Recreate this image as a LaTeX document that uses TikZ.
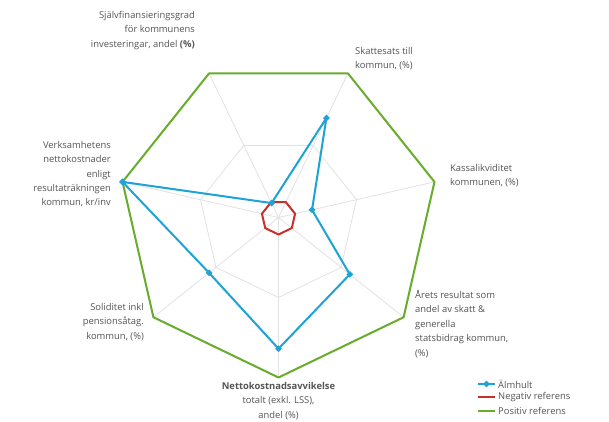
\documentclass[tikz,border=0pt]{standalone}
\usepackage{fontspec}
\setmainfont{Open Sans}
\usetikzlibrary{shapes.geometric}
\definecolor{posc}{HTML}{68AC2C}
\definecolor{negc}{HTML}{C9302C}
\definecolor{almc}{HTML}{1DA3D6}
\definecolor{txtc}{HTML}{555555}
\definecolor{gridc}{HTML}{E2E2E2}
\tikzset{
  lbl/.style={text=txtc, inner sep=0pt, font=\fontsize{9.4}{14.4}\selectfont},
  gridline/.style={draw=gridc, line width=0.8pt},
  posline/.style={draw=posc, line width=2pt, line join=round},
  negline/.style={draw=negc, line width=2pt, line join=round},
  almline/.style={draw=almc, line width=2pt, line join=round},
  almmark/.style={diamond, fill=almc, inner sep=0pt, minimum width=7pt, minimum height=7pt},
}
\begin{document}
\begin{tikzpicture}[x=1pt,y=1pt]
\useasboundingbox (0,0) rectangle (609,421);
\fill[white] (0,0) rectangle (609,421);
\coordinate (O) at (278.5,203.5);
% axes
\foreach \i/\a in {1/270,2/321.43,3/12.86,4/64.29,5/115.71,6/167.14,7/218.57}{
  \coordinate (v\i) at ([shift={(\a:160)}]O);
  \coordinate (h\i) at ([shift={(\a:80)}]O);
  \coordinate (n\i) at ([shift={(\a:17)}]O);
}
\foreach \i in {1,...,7}{ \draw[gridline] (O) -- (v\i); }
\draw[gridline] (h1)--(h2)--(h3)--(h4)--(h5)--(h6)--(h7)--cycle;
% positive reference
\draw[posline] (v1)--(v2)--(v3)--(v4)--(v5)--(v6)--(v7)--cycle;
% negative reference
\draw[negline] (n1)--(n2)--(n3)--(n4)--(n5)--(n6)--(n7)--cycle;
% Almhult
\foreach \i/\a/\r in {1/270/0.82,2/321.43/0.57,3/12.86/0.215,4/64.29/0.69,5/115.71/0.1,6/167.14/1.0,7/218.57/0.555}{
  \coordinate (p\i) at ([shift={(\a:160*\r)}]O);
}
\draw[almline] (p1)--(p2)--(p3)--(p4)--(p5)--(p6)--(p7)--cycle;
\foreach \i in {1,...,7}{ \node[almmark] (m\i) at (p\i) {}; }
% labels
\node[lbl, align=right, anchor=north east] (l5) at (195,421-11) {Självfinansieringsgrad\\för kommunens\\investeringar, andel \textbf{(\%)}};
\node[lbl, align=left, anchor=north west] (l4) at (355,421-47) {Skattesats till\\kommun, (\%)};
\node[lbl, align=left, anchor=north west] (l3) at (450,421-164) {Kassalikviditet\\kommunen, (\%)};
\node[lbl, align=right, anchor=north east] (l6) at (111,421-141) {Verksamhetens\\nettokostnader\\enligt\\resultaträkningen\\kommun, kr/inv};
\node[lbl, align=right, anchor=north east] (l7) at (144,421-303) {Soliditet inkl\\pensionsåtag.\\kommun, (\%)};
\node[lbl, align=center, anchor=north] (l1) at (278.5,421-382) {\textbf{Nettokostnadsavvikelse}\\totalt (exkl. LSS),\\andel (\%)};
\node[lbl, align=left, anchor=north west] (l2) at (415,421-290) {Årets resultat som\\andel av skatt \&\\generella\\statsbidrag kommun,\\(\%)};
% legend
\coordinate (ga) at (478,421-384); \coordinate (gb) at (495,421-384);
\draw[almline] (ga) -- (gb);
\node[almmark] (gm) at (486.5,421-384) {};
\node[lbl, anchor=west] (gt1) at (498,421-384) {Älmhult};
\coordinate (ra) at (478,421-397); \coordinate (rb) at (495,421-397);
\draw[negline] (ra) -- (rb);
\node[lbl, anchor=west] (gt2) at (498,421-397) {Negativ referens};
\coordinate (sa) at (478,421-411); \coordinate (sb) at (495,421-411);
\draw[posline] (sa) -- (sb);
\node[lbl, anchor=west] (gt3) at (498,421-411) {Positiv referens};
\end{tikzpicture}
\end{document}
